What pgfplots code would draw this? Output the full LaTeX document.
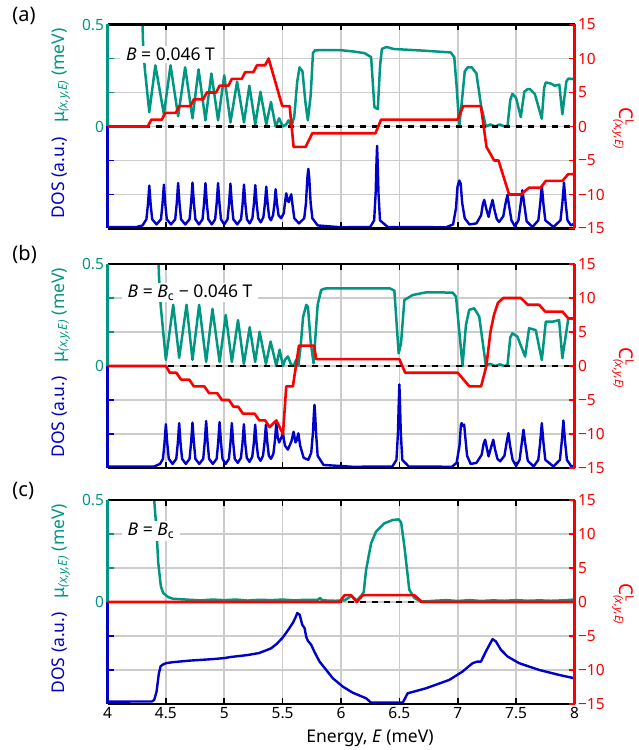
\documentclass[border=0pt]{standalone}
\usepackage{fontspec}
\setmainfont{Noto Sans}
\usepackage{pgfplots}
\pgfplotsset{compat=1.18}
\definecolor{mucol}{RGB}{0,150,130}
\definecolor{doscol}{RGB}{0,0,200}
\definecolor{ccol}{RGB}{250,0,0}
\definecolor{gridc}{RGB}{204,204,204}
\newcommand\tk{\fontsize{15.5}{18}\selectfont}
\newcommand\lbl{\fontsize{17.5}{20}\selectfont}

\pgfplotsset{
  panel/.style={scale only axis, width=467pt, height=204pt, anchor=south west,
    xmin=4, xmax=8, clip mode=individual,
    /pgf/number format/assume math mode=true,
    tick label style={font=\tk}},
  left panel/.style={panel, ymin=-0.5, ymax=0.5,
    xtick={4,4.5,...,8},
    ytick={-0.5,-0.33333,-0.16667,0,0.16667,0.33333,0.5},
    yticklabels={,,,0,,,0.5}, yticklabel style={text=mucol},
    grid=major, grid style={gridc, line width=1.7pt},
    axis line style={draw=none},
    tick align=inside, major tick length=6pt,
    xtick style={black, line width=1.7pt}, ytick style={draw=none},
    xticklabels={}},
  right panel/.style={panel, ymin=-15, ymax=15,
    axis x line=none, axis y line*=right,
    y axis line style={ccol, line width=2.6pt},
    ytick={-15,-10,...,15}, yticklabels={−15,−10,−5,0,5,10,15},
    yticklabel style={text=ccol},
    ytick style={ccol, line width=1.7pt},
    tick align=inside, major tick length=6pt},
  mu/.style={mucol, line width=2.5pt, line join=round},
  dos/.style={doscol, line width=2.4pt, line join=round},
  chern/.style={ccol, line width=2.6pt, line join=round},
  zero/.style={black, line width=2.2pt, dash pattern=on 6pt off 6pt},
}

% decorations shared by the three left axes
\newcommand\ytk[2]{\draw[#1, line width=1.7pt] (axis cs:4,#2) -- ([xshift=6pt]axis cs:4,#2);}
\newcommand\leftdeco[1]{%
  \draw[black, line width=2.5pt] (rel axis cs:0,1) -- (rel axis cs:1,1);
  \draw[black, line width=2.5pt] (rel axis cs:0,0) -- (rel axis cs:1,0);
  \draw[mucol, line width=2.6pt] (rel axis cs:0,0.5) -- (rel axis cs:0,1);
  \draw[doscol, line width=2.6pt] (rel axis cs:0,0) -- (rel axis cs:0,0.5);
  \ytk{mucol}{0.33333}
  \ytk{mucol}{0.16667}
  \ytk{mucol}{0}
  \ytk{doscol}{-0.16667}
  \ytk{doscol}{-0.33333}
  \node[rotate=90, anchor=base, text=doscol, font=\lbl] at (axis description cs:-0.093,0.25) {DOS (a.u.)};
  \node[rotate=90, anchor=base, text=mucol, font=\lbl] at (axis description cs:-0.093,0.75) {μ\textsubscript{\textit{(x,y,E)}} (meV)};
  \node[anchor=base west, font=\fontsize{20}{24}\selectfont] at (axis description cs:-0.211,1.017) {#1};
}
\newcommand\rightdeco{%
  \node[rotate=-90, text=ccol, font=\fontsize{19}{22}\selectfont] at (axis description cs:1.104,0.49)
    {\mbox{C}$^{\mbox{\fontsize{11.5}{12}\selectfont L}}_{\mbox{\fontsize{11.5}{12}\selectfont\itshape (x,y,E)}}$};
}

\begin{document}
\begin{tikzpicture}
\useasboundingbox (0,0) rectangle (638pt,750pt);

% ---------------- (a) ----------------
\begin{axis}[left panel, at={(107.5pt,521.5pt)}]
\addplot[mu] coordinates {
 (4.29,0.70) (4.305,0.40) (4.32,0.28) (4.358,0.07) (4.41,0.30) (4.483,0.06) (4.54,0.30)
 (4.605,0.05) (4.665,0.29) (4.728,0.04) (4.78,0.28) (4.839,0.03) (4.89,0.26) (4.947,0.03)
 (5.00,0.25) (5.053,0.02) (5.11,0.22) (5.169,0.02) (5.215,0.20) (5.266,0.01) (5.31,0.17)
 (5.36,0.01) (5.40,0.12) (5.44,0.0) (5.47,0.04) (5.50,0.0) (5.53,0.01) (5.55,0.03)
 (5.575,0.0) (5.60,0.05) (5.625,0.22) (5.645,0.29) (5.67,0.27) (5.695,0.12) (5.716,0.03)
 (5.74,0.15) (5.76,0.36) (5.775,0.373) (5.85,0.375) (6.00,0.374) (6.10,0.368) (6.20,0.36)
 (6.258,0.34) (6.286,0.095) (6.315,0.085) (6.335,0.30) (6.35,0.38) (6.39,0.39) (6.45,0.38)
 (6.70,0.372) (6.94,0.363) (6.97,0.34) (6.99,0.20) (7.013,0.0) (7.04,0.15) (7.06,0.27)
 (7.084,0.29) (7.12,0.29) (7.16,0.26) (7.20,0.10) (7.241,0.0) (7.28,0.01) (7.32,0.0)
 (7.36,0.01) (7.40,0.0) (7.426,0.0) (7.45,0.13) (7.468,0.16) (7.50,0.14) (7.54,0.046)
 (7.57,0.17) (7.597,0.183) (7.62,0.183) (7.66,0.16) (7.72,0.038) (7.74,0.19) (7.754,0.216)
 (7.80,0.21) (7.83,0.20) (7.87,0.205) (7.896,0.06) (7.93,0.22) (7.947,0.235) (8.0,0.232)
};
\addplot[dos] table[y expr=\thisrow{d}/2-0.5] {
x d
4.00 0.015
4.25 0.015
4.30 0.03
4.333 0.09
4.346 0.23
4.358 0.42
4.370 0.23
4.383 0.09
4.42 0.04
4.458 0.09
4.471 0.24
4.483 0.43
4.495 0.24
4.508 0.09
4.544 0.04
4.580 0.09
4.593 0.245
4.605 0.445
4.617 0.245
4.630 0.09
4.666 0.04
4.703 0.09
4.716 0.25
4.728 0.45
4.740 0.25
4.753 0.09
4.783 0.04
4.814 0.09
4.827 0.245
4.839 0.445
4.851 0.245
4.864 0.09
4.893 0.04
4.922 0.09
4.935 0.245
4.947 0.445
4.959 0.245
4.972 0.09
5.000 0.04
5.028 0.09
5.041 0.24
5.053 0.44
5.065 0.24
5.078 0.09
5.111 0.04
5.144 0.09
5.157 0.24
5.169 0.43
5.181 0.24
5.194 0.09
5.218 0.05
5.241 0.10
5.254 0.24
5.266 0.425
5.278 0.24
5.291 0.10
5.313 0.06
5.335 0.11
5.348 0.24
5.360 0.41
5.372 0.24
5.385 0.11
5.400 0.08
5.418 0.13
5.430 0.24
5.440 0.385
5.452 0.24
5.465 0.13
5.487 0.10
5.510 0.15
5.520 0.25
5.531 0.345
5.545 0.27
5.553 0.26
5.563 0.30
5.574 0.335
5.586 0.22
5.600 0.10
5.64 0.05
5.685 0.10
5.700 0.25
5.712 0.50
5.720 0.585
5.728 0.50
5.740 0.25
5.755 0.10
5.80 0.03
6.00 0.012
6.25 0.015
6.284 0.08
6.297 0.35
6.304 0.65
6.309 0.81
6.314 0.65
6.321 0.35
6.334 0.08
6.40 0.015
6.90 0.012
6.96 0.04
6.985 0.20
6.998 0.41
7.013 0.47
7.025 0.44
7.038 0.25
7.06 0.10
7.10 0.04
7.16 0.05
7.20 0.13
7.215 0.24
7.227 0.28
7.245 0.19
7.264 0.114
7.28 0.20
7.298 0.28
7.315 0.18
7.335 0.09
7.355 0.065
7.39 0.12
7.41 0.25
7.426 0.33
7.44 0.22
7.46 0.08
7.49 0.02
7.52 0.08
7.54 0.25
7.554 0.375
7.568 0.25
7.59 0.07
7.64 0.015
7.69 0.08
7.706 0.24
7.720 0.42
7.734 0.24
7.75 0.08
7.82 0.015
7.88 0.08
7.896 0.25
7.910 0.45
7.924 0.25
7.94 0.08
7.97 0.03
8.00 0.05
};
\addplot[zero] coordinates {(4,0) (8,0)};
\node[fill=white, anchor=west, font=\lbl, inner xsep=6pt, inner ysep=2pt] at (axis cs:4.107,0.355) {\textit{B} = 0.046 T};
\leftdeco{(a)}
\end{axis}
\begin{axis}[right panel, at={(107.5pt,521.5pt)}]
\addplot[chern] coordinates {
 (4,0) (4.345,0) (4.375,1) (4.465,1) (4.495,2) (4.585,2) (4.615,3) (4.71,3) (4.74,4)
 (4.82,4) (4.85,5) (4.93,5) (4.96,6) (5.035,6) (5.065,7) (5.15,7) (5.18,8) (5.25,8)
 (5.28,9) (5.35,9) (5.38,10) (5.497,3) (5.56,3) (5.594,-3) (5.697,-3) (5.754,-1)
 (6.295,-1) (6.343,1) (6.998,1) (7.047,3) (7.198,3) (7.246,-3) (7.312,-5) (7.349,-5)
 (7.44,-10) (7.54,-10) (7.611,-9) (7.711,-9) (7.754,-8) (7.896,-8) (7.947,-7) (8,-7)
};
\rightdeco
\end{axis}

% ---------------- (b) ----------------
\begin{axis}[left panel, at={(107.5pt,282pt)}]
\addplot[mu] coordinates {
 (4.43,0.70) (4.44,0.45) (4.455,0.30) (4.50,0.03) (4.563,0.30) (4.614,0.04) (4.677,0.30)
 (4.728,0.03) (4.785,0.30) (4.845,0.02) (4.899,0.28) (4.96,0.02) (5.013,0.25) (5.065,0.02)
 (5.118,0.225) (5.168,0.01) (5.218,0.19) (5.265,0.02) (5.303,0.168) (5.357,0.01) (5.397,0.12)
 (5.446,0.0) (5.474,0.08) (5.503,0.0) (5.52,0.03) (5.545,0.047) (5.57,0.01) (5.594,0.0)
 (5.615,0.03) (5.635,0.0) (5.655,0.10) (5.675,0.24) (5.703,0.30) (5.717,0.29) (5.74,0.12)
 (5.765,0.013) (5.80,0.30) (5.83,0.373) (5.873,0.381) (6.10,0.381) (6.415,0.381)
 (6.457,0.37) (6.494,0.062) (6.514,0.11) (6.543,0.324) (6.614,0.348) (6.728,0.361)
 (6.956,0.36) (6.985,0.34) (7.041,0.0) (7.07,0.20) (7.098,0.275) (7.141,0.283) (7.184,0.242)
 (7.24,0.005) (7.28,0.01) (7.32,0.0) (7.36,0.008) (7.40,0.0) (7.426,0.005) (7.45,0.14)
 (7.468,0.16) (7.511,0.144) (7.577,0.046) (7.611,0.185) (7.668,0.176) (7.72,0.029)
 (7.754,0.217) (7.811,0.217) (7.868,0.225) (7.896,0.038) (7.947,0.233) (8.0,0.23)
};
\addplot[dos] table[y expr=\thisrow{d}/2-0.5] {
x d
4.00 0.015
4.40 0.015
4.45 0.04
4.475 0.09
4.488 0.24
4.500 0.43
4.512 0.24
4.525 0.09
4.557 0.04
4.589 0.09
4.602 0.24
4.614 0.44
4.626 0.24
4.639 0.09
4.671 0.04
4.703 0.09
4.716 0.25
4.728 0.445
4.740 0.25
4.753 0.09
4.786 0.04
4.820 0.09
4.833 0.255
4.845 0.46
4.857 0.255
4.870 0.09
4.902 0.04
4.935 0.09
4.948 0.25
4.960 0.45
4.972 0.25
4.985 0.09
5.012 0.04
5.040 0.09
5.053 0.245
5.065 0.44
5.077 0.245
5.090 0.09
5.116 0.05
5.143 0.10
5.156 0.24
5.168 0.43
5.180 0.24
5.193 0.10
5.216 0.06
5.240 0.11
5.253 0.24
5.265 0.425
5.277 0.24
5.290 0.11
5.311 0.07
5.332 0.12
5.345 0.25
5.357 0.425
5.369 0.25
5.382 0.12
5.40 0.09
5.421 0.14
5.434 0.27
5.446 0.44
5.458 0.30
5.47 0.25
5.49 0.30
5.503 0.34
5.52 0.22
5.545 0.18
5.575 0.26
5.594 0.355
5.61 0.25
5.62 0.27
5.635 0.34
5.65 0.22
5.68 0.10
5.72 0.08
5.745 0.15
5.760 0.35
5.767 0.52
5.773 0.62
5.779 0.52
5.786 0.35
5.80 0.12
5.85 0.03
6.10 0.012
6.44 0.015
6.475 0.08
6.488 0.35
6.495 0.65
6.50 0.82
6.505 0.65
6.512 0.35
6.525 0.08
6.58 0.015
6.95 0.012
6.99 0.05
7.015 0.22
7.027 0.42
7.033 0.44
7.045 0.41
7.055 0.425
7.065 0.30
7.08 0.12
7.11 0.04
7.16 0.05
7.205 0.13
7.222 0.24
7.235 0.277
7.25 0.19
7.264 0.114
7.285 0.20
7.304 0.277
7.32 0.18
7.34 0.09
7.363 0.065
7.40 0.12
7.42 0.26
7.434 0.342
7.448 0.22
7.47 0.08
7.50 0.02
7.53 0.08
7.549 0.25
7.563 0.375
7.577 0.25
7.60 0.07
7.65 0.015
7.69 0.08
7.706 0.25
7.720 0.44
7.734 0.25
7.75 0.08
7.82 0.015
7.875 0.08
7.891 0.26
7.905 0.466
7.919 0.26
7.935 0.08
7.97 0.02
8.00 0.015
};
\addplot[zero] coordinates {(4,0) (8,0)};
\node[fill=white, anchor=west, font=\lbl, inner xsep=6pt, inner ysep=2pt] at (axis cs:4.12,0.36) {\textit{B} = \textit{B}\textsubscript{c} − 0.046 T};
\leftdeco{(b)}
\end{axis}
\begin{axis}[right panel, at={(107.5pt,282pt)}]
\addplot[chern] coordinates {
 (4,0) (4.50,0) (4.534,-1) (4.59,-1) (4.63,-2) (4.70,-2) (4.74,-3) (4.83,-3) (4.87,-4)
 (4.94,-4) (4.98,-5) (5.04,-5) (5.08,-6) (5.12,-6) (5.16,-7) (5.26,-7) (5.30,-8) (5.35,-8)
 (5.389,-9) (5.446,-8) (5.503,-10) (5.531,-3) (5.588,-3) (5.64,3) (5.77,3) (5.787,1)
 (6.50,1) (6.55,-1) (7.00,-1) (7.10,-3) (7.20,-3) (7.245,0) (7.28,5) (7.31,7.5)
 (7.345,9.3) (7.39,10) (7.54,10) (7.60,9) (7.697,9) (7.749,8) (7.896,8) (7.947,7) (8,7)
};
\rightdeco
\end{axis}

% ---------------- (c) ----------------
\begin{axis}[left panel, at={(107.5pt,46pt)},
  xticklabels={4,4.5,5,5.5,6,6.5,7,7.5,8}]
\addplot[mu] coordinates {
 (4.395,0.70) (4.40,0.50) (4.42,0.35) (4.435,0.19) (4.457,0.077) (4.477,0.044) (4.52,0.024)
 (4.56,0.016) (4.70,0.011) (4.80,0.008) (4.90,0.012) (5.00,0.009) (5.10,0.012) (5.20,0.007)
 (5.30,0.011) (5.40,0.009) (5.50,0.012) (5.60,0.008) (5.70,0.011) (5.80,0.01) (5.82,0.02)
 (5.84,0.008) (5.95,0.006) (6.03,0.008) (6.09,0.03) (6.135,0.008) (6.18,0.035) (6.195,0.05)
 (6.215,0.158) (6.258,0.288) (6.30,0.345) (6.372,0.386) (6.443,0.402) (6.494,0.405)
 (6.515,0.39) (6.543,0.272) (6.585,0.06) (6.628,0.02) (6.685,0.002) (6.80,0.006)
 (6.90,0.009) (7.00,0.005) (7.10,0.009) (7.20,0.005) (7.30,0.008) (7.40,0.006) (7.50,0.009)
 (7.60,0.006) (7.70,0.008) (7.80,0.006) (7.90,0.008) (8.00,0.012)
};
\addplot[dos] table[y expr=\thisrow{d}/2-0.5] {
x d
4.00 0.023
4.38 0.025
4.40 0.04
4.42 0.12
4.44 0.30
4.455 0.37
4.472 0.385
4.50 0.40
4.56 0.41
4.70 0.425
4.90 0.44
5.00 0.45
5.05 0.46
5.20 0.48
5.30 0.50
5.40 0.545
5.45 0.59
5.50 0.65
5.55 0.73
5.59 0.80
5.615 0.86
5.625 0.892
5.646 0.875
5.668 0.777
5.688 0.744
5.702 0.66
5.716 0.62
5.745 0.58
5.773 0.51
5.816 0.416
5.873 0.334
5.93 0.252
6.016 0.17
6.10 0.111
6.215 0.056
6.258 0.013
6.529 0.013
6.571 0.105
6.728 0.154
6.927 0.236
7.041 0.318
7.127 0.40
7.169 0.416
7.199 0.416
7.241 0.515
7.298 0.636
7.327 0.613
7.37 0.531
7.426 0.466
7.526 0.40
7.697 0.334
7.868 0.285
8.00 0.252
};
\addplot[zero] coordinates {(4,0) (8,0)};
\node[fill=white, anchor=west, font=\lbl, inner xsep=6pt, inner ysep=2pt] at (axis cs:4.12,0.348) {\textit{B} = \textit{B}\textsubscript{c}};
\leftdeco{(c)}
\node[anchor=base, font=\lbl] at (axis description cs:0.562,-0.19) {Energy, \textit{E} (meV)};
\end{axis}
\begin{axis}[right panel, at={(107.5pt,46pt)}]
\addplot[chern] coordinates {
 (4,0) (5.988,0) (6.03,1) (6.087,1) (6.135,0) (6.186,1) (6.628,1) (6.694,0) (8,0)
};
\rightdeco
\end{axis}
\end{tikzpicture}
\end{document}
